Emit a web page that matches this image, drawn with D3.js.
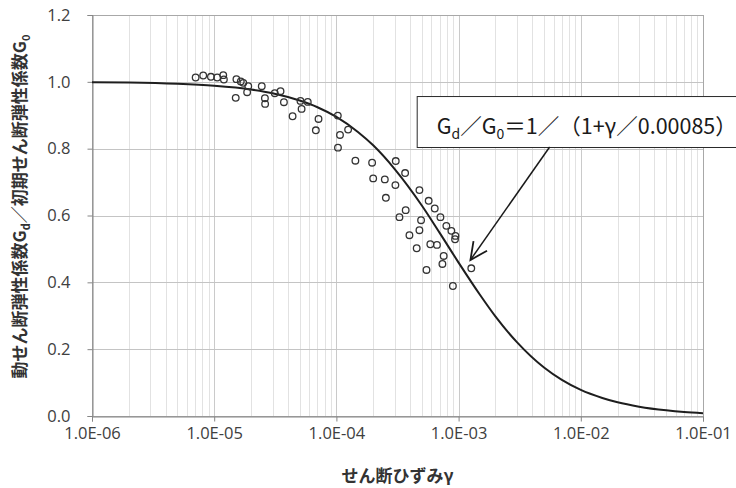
<!DOCTYPE html>
<html><head><meta charset="utf-8">
<script src="https://cdn.jsdelivr.net/npm/d3@7/dist/d3.min.js"></script>
<style>body{margin:0;background:#fff}svg{display:block}</style>
</head><body>
<svg id="c" width="736" height="488"></svg>
<script>
// ---- data ----
const xTickValues = [1e-6, 1e-5, 1e-4, 1e-3, 1e-2, 1e-1];
const xTickLabels = ["1.0E-06", "1.0E-05", "1.0E-04", "1.0E-03", "1.0E-02", "1.0E-01"];
const yTickValues = [0, 0.2, 0.4, 0.6, 0.8, 1.0, 1.2];
const yTickLabels = ["0.0", "0.2", "0.4", "0.6", "0.8", "1.0", "1.2"];

// measured points: shear strain and Gd/G0
const pointStrain = [7.05e-6, 8.13e-6, 9.40e-6, 1.058e-5, 1.186e-5, 1.20e-5, 1.52e-5, 1.65e-5, 1.73e-5, 1.90e-5,
  1.86e-5, 1.50e-5, 2.45e-5, 2.60e-5, 2.61e-5, 3.13e-5, 3.49e-5, 3.72e-5, 4.38e-5, 5.08e-5,
  5.83e-5, 5.19e-5, 7.14e-5, 6.79e-5, 1.027e-4, 1.07e-4, 1.03e-4, 1.247e-4, 1.43e-4, 1.96e-4,
  3.06e-4, 2.00e-4, 2.49e-4, 3.04e-4, 2.54e-4, 3.65e-4, 4.78e-4, 3.69e-4, 3.28e-4, 5.69e-4,
  6.38e-4, 4.93e-4, 7.10e-4, 4.78e-4, 3.96e-4, 7.94e-4, 8.73e-4, 9.42e-4, 9.35e-4, 4.54e-4,
  5.87e-4, 6.65e-4, 7.55e-4, 7.37e-4, 5.46e-4, 8.98e-4, 1.27e-3];
const pointRatio = [1.013, 1.019, 1.015, 1.013, 1.020, 1.007, 1.008, 1.001, 0.997, 0.987,
  0.969, 0.952, 0.987, 0.951, 0.934, 0.966, 0.972, 0.939, 0.897, 0.943,
  0.940, 0.919, 0.889, 0.855, 0.899, 0.841, 0.803, 0.857, 0.764, 0.758,
  0.763, 0.711, 0.708, 0.691, 0.653, 0.727, 0.676, 0.616, 0.595, 0.644,
  0.621, 0.586, 0.595, 0.556, 0.541, 0.569, 0.554, 0.539, 0.529, 0.502,
  0.514, 0.512, 0.479, 0.455, 0.437, 0.389, 0.442];

// fitted curve
const curveStrain = [1e-6, 2e-6, 5e-6, 1e-5, 2e-5, 3e-5, 5e-5, 7e-5, 1e-4, 1.5e-4, 2e-4, 3e-4, 5e-4, 7e-4,
  1e-3, 1.5e-3, 2e-3, 3e-3, 5e-3, 7e-3, 1e-2, 1.5e-2, 2e-2, 3e-2, 5e-2, 7e-2, 1e-1];
const curveRatio = [0.999, 0.998, 0.994, 0.988, 0.977, 0.966, 0.944, 0.924, 0.895, 0.850, 0.810, 0.739, 0.630, 0.548,
  0.459, 0.362, 0.298, 0.221, 0.145, 0.108, 0.078, 0.054, 0.041, 0.028, 0.017, 0.012, 0.0085];

const yTitleParts = ["動せん断弾性係数G", "d", "／初期せん断弾性係数G", "0"];
const xTitle = "せん断ひずみγ";
const noteParts = ["G", "d", "／G", "0", "＝1／（1+γ／0.00085）"];

// ---- drawing ----
const svg = d3.select("#c");
const L = 92, R = 703, T = 15, B = 416;
const x = d3.scaleLog().domain([1e-6, 1e-1]).range([L, R]);
const y = d3.scaleLinear().domain([0, 1.2]).range([B, T]);

const grid = svg.append("g");
const minor = [];
for (let e = -6; e < -1; e++) for (let k = 2; k <= 9; k++) minor.push(k * Math.pow(10, e));
grid.selectAll("line.mn").data(minor).join("line")
  .attr("x1", d => Math.round(x(d)) + 0.5).attr("x2", d => Math.round(x(d)) + 0.5)
  .attr("y1", T).attr("y2", B).attr("stroke", "#e2e2e2").attr("stroke-width", 1);
grid.selectAll("line.mj").data(xTickValues).join("line")
  .attr("x1", d => Math.round(x(d)) + 0.5).attr("x2", d => Math.round(x(d)) + 0.5)
  .attr("y1", T).attr("y2", B).attr("stroke", "#cacaca").attr("stroke-width", 1);
grid.selectAll("line.h").data(yTickValues.slice(1)).join("line")
  .attr("x1", L).attr("x2", R)
  .attr("y1", d => Math.round(y(d)) + 0.5).attr("y2", d => Math.round(y(d)) + 0.5)
  .attr("stroke", "#c4c4c4").attr("stroke-width", 1);
svg.append("rect").attr("x", L + 0.5).attr("y", T + 0.5).attr("width", R - L).attr("height", B - T)
  .attr("fill", "none").attr("stroke", "#a8a8a8");

// axes
const xAxis = d3.axisBottom(x).tickValues(xTickValues).tickFormat((d, i) => xTickLabels[i]).tickSize(5).tickPadding(6);
const gx = svg.append("g").attr("transform", `translate(0,${B + 0.5})`).call(xAxis);
const yAxis = d3.axisLeft(y).tickValues(yTickValues).tickFormat((d, i) => yTickLabels[i]).tickSize(5).tickPadding(17);
const gy = svg.append("g").attr("transform", `translate(${L + 0.5},0)`).call(yAxis);
[gx, gy].forEach(g => {
  g.select(".domain").attr("stroke", "#868686");
  g.selectAll(".tick line").attr("stroke", "#868686");
  g.selectAll(".tick text").attr("fill", "#404040").style("font-family", "'Open Sans','Liberation Sans',sans-serif").style("font-size", "16.5px");
});

// curve
const curvePts = curveStrain.map((s, i) => [s, curveRatio[i]]);
svg.append("path").datum(curvePts)
  .attr("d", d3.line().x(d => x(d[0])).y(d => y(d[1])).curve(d3.curveMonotoneX))
  .attr("fill", "none").attr("stroke", "#1e1e1e").attr("stroke-width", 2);

// points
const pts = pointStrain.map((s, i) => [s, pointRatio[i]]);
svg.append("g").selectAll("circle").data(pts).join("circle")
  .attr("cx", d => x(d[0])).attr("cy", d => y(d[1])).attr("r", 3.3)
  .attr("fill", "none").attr("stroke", "#333").attr("stroke-width", 1.3);

// annotation (anchored in data space)
const boxX = x(4.54e-4), boxY = y(0.9575), boxY2 = y(0.805);
svg.append("rect").attr("x", boxX + 0.5).attr("y", boxY + 0.5).attr("width", 340).attr("height", boxY2 - boxY)
  .attr("fill", "#fff").attr("stroke", "#2a2a2a").attr("stroke-width", 1);
const nt = svg.append("text").attr("x", boxX + 20).attr("y", boxY + 38)
  .style("font-family", "'Noto Sans CJK JP',sans-serif").style("font-size", "21.5px").attr("fill", "#1a1a1a");
noteParts.forEach((p, i) => {
  const sub = (i === 1 || i === 3);
  nt.append("tspan").text(p).attr("dy", sub ? 5 : (i > 0 ? -5 : 0)).style("font-size", sub ? "14px" : "21.5px");
});
const ax1 = x(5.56e-3), ay1 = y(0.805), ax2 = x(1.25e-3), ay2 = y(0.467);
svg.append("line").attr("x1", ax1).attr("y1", ay1).attr("x2", ax2).attr("y2", ay2)
  .attr("stroke", "#1a1a1a").attr("stroke-width", 1.5);
const ang = Math.atan2(ay1 - ay2, ax1 - ax2), hl = 19, spread = 0.45;
svg.append("path")
  .attr("d", `M${ax2 + hl * Math.cos(ang - spread)},${ay2 + hl * Math.sin(ang - spread)}L${ax2},${ay2}L${ax2 + hl * Math.cos(ang + spread)},${ay2 + hl * Math.sin(ang + spread)}`)
  .attr("fill", "none").attr("stroke", "#1a1a1a").attr("stroke-width", 1.8);

// titles
svg.append("text").attr("x", (L + R) / 2).attr("y", 482).attr("text-anchor", "middle")
  .style("font-family", "'Noto Sans CJK JP',sans-serif").style("font-size", "17px").style("font-weight", "bold")
  .attr("fill", "#333").text(xTitle);
const yt = svg.append("text").attr("transform", `translate(26,${(T + B) / 2 - 9}) rotate(-90)`).attr("text-anchor", "middle")
  .style("font-family", "'Noto Sans CJK JP',sans-serif").style("font-size", "17px").style("font-weight", "bold").attr("fill", "#333");
yTitleParts.forEach((p, i) => {
  const sub = (i % 2 === 1);
  yt.append("tspan").text(p).attr("dy", sub ? 4 : (i > 0 ? -4 : 0)).style("font-size", sub ? "11px" : "17px");
});
</script>
</body></html>
